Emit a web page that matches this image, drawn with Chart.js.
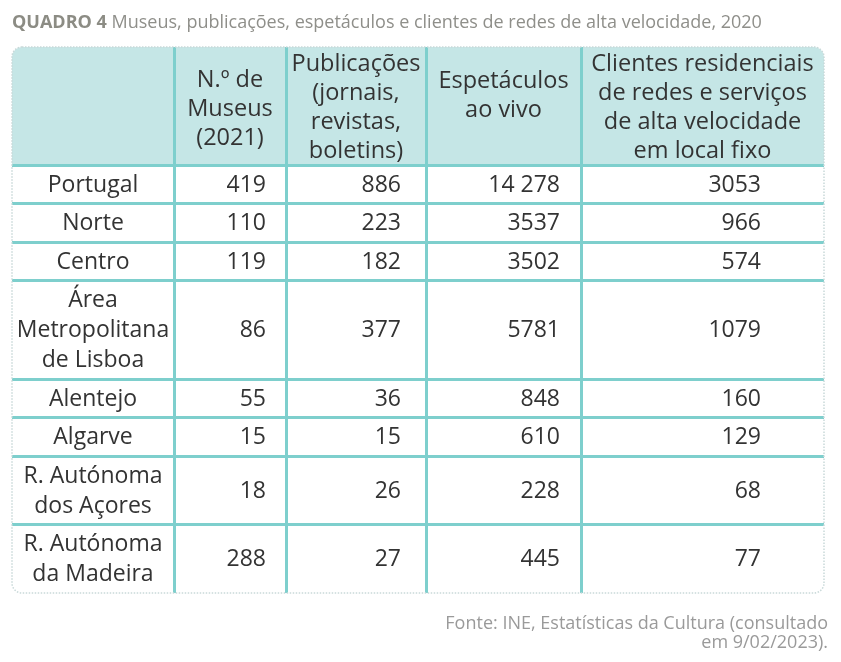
<!DOCTYPE html>
<html>
<head>
<meta charset="utf-8">
<script src="https://cdn.jsdelivr.net/npm/chart.js@4.4.1/dist/chart.umd.min.js"></script>
<style>
  html, body { margin: 0; padding: 0; background: #fff; }
  canvas { display: block; }
</style>
</head>
<body>
<canvas id="myChart" width="841" height="662"></canvas>
<script>
// table content
const regions = [
  ['Portugal'],
  ['Norte'],
  ['Centro'],
  ['Área', 'Metropolitana', 'de Lisboa'],
  ['Alentejo'],
  ['Algarve'],
  ['R. Autónoma', 'dos Açores'],
  ['R. Autónoma', 'da Madeira']
];
const headers = [
  [],
  ['N.º de', 'Museus', '(2021)'],
  ['Publicações', '(jornais,', 'revistas,', 'boletins)'],
  ['Espetáculos', 'ao vivo'],
  ['Clientes residenciais', 'de redes e serviços', 'de alta velocidade', 'em local fixo']
];
const museus = [419, 110, 119, 86, 55, 15, 18, 288];
const publicacoes = [886, 223, 182, 377, 36, 15, 26, 27];
const espetaculos = [14278, 3537, 3502, 5781, 848, 610, 228, 445];
const clientes = [3053, 966, 574, 1079, 160, 129, 68, 77];

const title = 'Museus, publicações, espetáculos e clientes de redes de alta velocidade, 2020';
const source = ['Fonte: INE, Estatísticas da Cultura (consultado', 'em 9/02/2023).'];

// layout
const FONT = '"Open Sans", sans-serif';
const TEXT = '#333333';
const TEAL = '#7ecfcd';
const HEAD_BG = '#c5e6e6';
const colEdges = [0, 162, 274, 414, 569, 812];   // x scale units (table width)
const numPadRight = [0, 20, 25, 21, 63];
const headShift = [0, 3, 2, -10, 2];
const LINE = 30, PAD = 8.5, HEAD_H = 118;

// row boundaries from the number of text lines in each row
const rowEdges = [0, HEAD_H];
regions.forEach(r => rowEdges.push(rowEdges[rowEdges.length - 1] + r.length * LINE + PAD));
const tableH = rowEdges[rowEdges.length - 1];
const rowMid = i => (rowEdges[i + 1] + rowEdges[i + 2]) / 2;

function fmt(v) {
  return v >= 10000 ? String(v).replace(/\B(?=(\d{3})+(?!\d))/g, ' ') : String(v);
}

const columns = [museus, publicacoes, espetaculos, clientes];
const datasets = columns.map((vals, c) => ({
  label: headers[c + 1].join(' '),
  data: vals.map((v, i) => ({ x: colEdges[c + 2] - numPadRight[c + 1], y: rowMid(i), v: v })),
  pointRadius: 0,
  pointHoverRadius: 0
}));

const tablePlugin = {
  id: 'table',
  beforeDraw(chart) {
    const { ctx, chartArea: a, scales: { y } } = chart;
    ctx.save();
    roundRect(ctx, a.left, a.top, a.right - a.left, a.bottom - a.top, 10);
    ctx.clip();
    ctx.fillStyle = HEAD_BG;
    ctx.fillRect(a.left, a.top, a.right - a.left, y.getPixelForValue(HEAD_H) - a.top);
    ctx.restore();
  },
  afterDraw(chart) {
    const { ctx, chartArea: a, scales: { x, y } } = chart;
    ctx.save();
    // dotted outline
    ctx.strokeStyle = '#c9d9d9';
    ctx.lineWidth = 1.5;
    ctx.setLineDash([1.5, 1.5]);
    roundRect(ctx, a.left, a.top, a.right - a.left, a.bottom - a.top, 10);
    ctx.stroke();
    ctx.setLineDash([]);

    ctx.fillStyle = TEXT;
    ctx.textBaseline = 'middle';
    ctx.textAlign = 'center';

    // header
    ctx.font = '23.5px ' + FONT;
    headers.forEach((lines, c) => {
      if (!lines.length) return;
      const cx = x.getPixelForValue((colEdges[c] + colEdges[c + 1]) / 2);
      const cy = y.getPixelForValue(HEAD_H / 2) + headShift[c];
      const lh = 29;
      lines.forEach((t, k) => ctx.fillText(t, cx, cy + (k - (lines.length - 1) / 2) * lh));
    });

    // region names
    ctx.font = '23px ' + FONT;
    const cx0 = x.getPixelForValue((colEdges[0] + colEdges[1]) / 2);
    regions.forEach((lines, i) => {
      const cy = y.getPixelForValue(rowMid(i)) + 1;
      lines.forEach((t, k) => ctx.fillText(t, cx0, cy + (k - (lines.length - 1) / 2) * LINE));
    });

    // numbers, placed by the dataset points
    ctx.textAlign = 'right';
    chart.data.datasets.forEach((ds, d) => {
      chart.getDatasetMeta(d).data.forEach((pt, i) => {
        ctx.fillText(fmt(ds.data[i].v), pt.x, pt.y + 1);
      });
    });

    // title
    ctx.textAlign = 'left';
    ctx.textBaseline = 'alphabetic';
    ctx.fillStyle = '#8c8c84';
    ctx.font = 'bold 18px ' + FONT;
    ctx.fillText('QUADRO 4', 12, 28);
    const w = ctx.measureText('QUADRO 4 ').width;
    ctx.font = '18px ' + FONT;
    ctx.fillStyle = '#8f8f8a';
    ctx.fillText(title, 12 + w, 28);

    // source
    ctx.textAlign = 'right';
    ctx.fillStyle = '#9a9a9a';
    ctx.fillText(source[0], 828, 629);
    ctx.fillText(source[1], 828, 648);
    ctx.restore();
  }
};

function roundRect(ctx, x0, y0, w, h, r) {
  ctx.beginPath();
  ctx.moveTo(x0 + r, y0);
  ctx.arcTo(x0 + w, y0, x0 + w, y0 + h, r);
  ctx.arcTo(x0 + w, y0 + h, x0, y0 + h, r);
  ctx.arcTo(x0, y0 + h, x0, y0, r);
  ctx.arcTo(x0, y0, x0 + w, y0, r);
  ctx.closePath();
}

function edgeGrid(edges) {
  return ctx => {
    const v = ctx.tick && ctx.tick.value;
    return v === edges[0] || v === edges[edges.length - 1] ? 'rgba(0,0,0,0)' : TEAL;
  };
}

new Chart(document.getElementById('myChart'), {
  type: 'scatter',
  data: { datasets: datasets },
  options: {
    responsive: false,
    animation: false,
    events: [],
    layout: { padding: { left: 12, top: 47, right: 17, bottom: 662 - 47 - tableH } },
    plugins: { legend: { display: false }, tooltip: { enabled: false } },
    scales: {
      x: {
        type: 'linear', min: colEdges[0], max: colEdges[colEdges.length - 1],
        afterBuildTicks: s => { s.ticks = colEdges.map(v => ({ value: v })); },
        ticks: { display: false },
        border: { display: false },
        grid: { drawTicks: false, lineWidth: 3, color: edgeGrid(colEdges) }
      },
      y: {
        type: 'linear', reverse: true, min: 0, max: tableH,
        afterBuildTicks: s => { s.ticks = rowEdges.map(v => ({ value: v })); },
        ticks: { display: false },
        border: { display: false },
        grid: { drawTicks: false, lineWidth: 3, color: edgeGrid(rowEdges) }
      }
    }
  },
  plugins: [tablePlugin]
});
</script>
</body>
</html>
